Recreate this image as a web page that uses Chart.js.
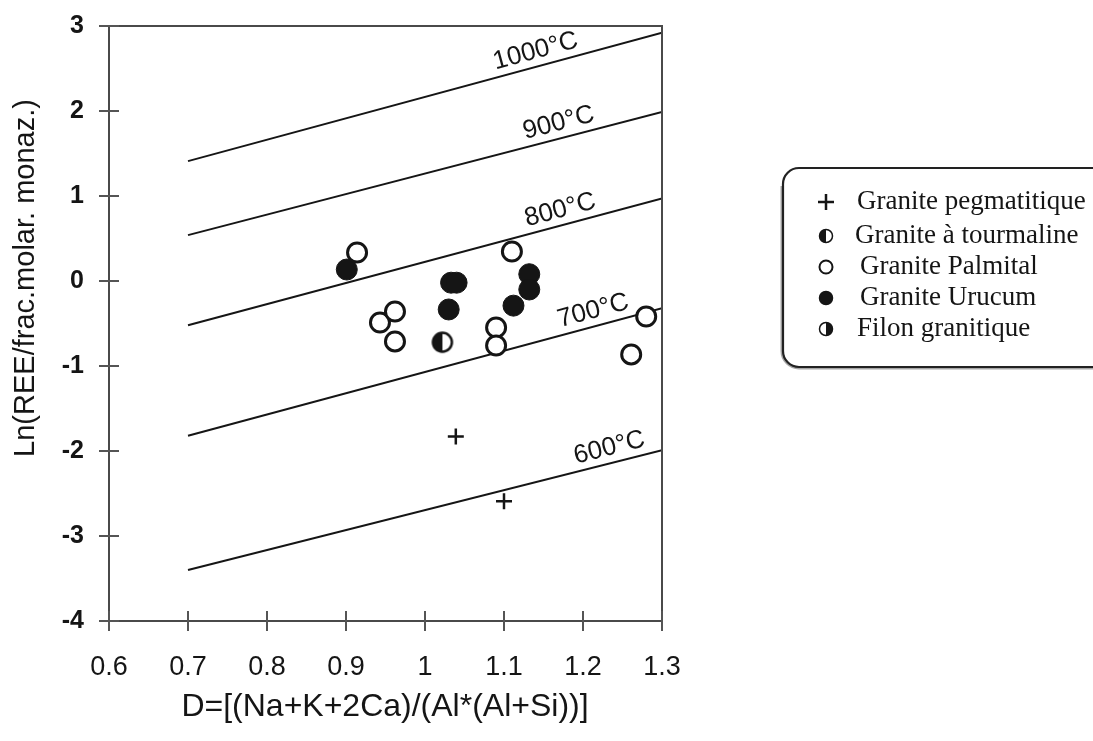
<!DOCTYPE html>
<html><head><meta charset="utf-8">
<script src="https://cdn.jsdelivr.net/npm/chart.js@4/dist/chart.umd.min.js"></script>
<style>html,body{margin:0;padding:0;background:#fff;}#wrap{width:1093px;height:741px;position:relative;}</style>
</head><body><div id="wrap"><canvas id="c" width="1093" height="741"></canvas></div>
<script>
// ---------- data ----------
const xTickLabels = ['0.6','0.7','0.8','0.9','1','1.1','1.2','1.3'];
const yTickLabels = ['-4','-3','-2','-1','0','1','2','3'];
const xTitle = 'D=[(Na+K+2Ca)/(Al*(Al+Si))]';
const yTitle = 'Ln(REE/frac.molar. monaz.)';

const isothermNames = ['1000°C','900°C','800°C','700°C','600°C'];
const isothermX = [0.7, 1.3];
const isotherm1000 = [1.41, 2.92];
const isotherm900 = [0.54, 1.99];
const isotherm800 = [-0.52, 0.97];
const isotherm700 = [-1.82, -0.32];
const isotherm600 = [-3.40, -1.99];
const isothermLabelX = [1.145, 1.174, 1.176, 1.218, 1.238];

const seriesNames = ['Granite pegmatitique','Granite à tourmaline','Granite Palmital','Granite Urucum','Filon granitique'];
const pegmatiteX = [1.039, 1.100];
const pegmatiteY = [-1.83, -2.59];
const tourmalineX = [1.022];
const tourmalineY = [-0.72];
const palmitalX = [0.914, 0.943, 0.962, 0.962, 1.110, 1.090, 1.090, 1.280, 1.261];
const palmitalY = [0.335, -0.488, -0.359, -0.711, 0.347, -0.547, -0.759, -0.418, -0.864];
const urucumX = [0.901, 1.033, 1.040, 1.030, 1.112, 1.132, 1.132];
const urucumY = [0.135, -0.02, -0.02, -0.335, -0.29, 0.08, -0.10];
const filonX = [];
const filonY = [];

// ---------- helpers ----------
const pts = (xs, ys) => xs.map((x, i) => ({x: x, y: ys[i]}));
const INK = '#151515';
function drawMarker(g, kind, x, y, r, lw) {
  g.save(); g.lineWidth = lw; g.strokeStyle = INK;
  if (kind === 'plus') {
    g.beginPath(); g.moveTo(x - r, y); g.lineTo(x + r, y); g.moveTo(x, y - r); g.lineTo(x, y + r); g.stroke();
  } else {
    g.beginPath(); g.arc(x, y, r, 0, Math.PI * 2);
    g.fillStyle = kind === 'filled' ? INK : '#fff'; g.fill(); g.stroke();
    if (kind === 'halfLeft' || kind === 'halfRight') {
      g.beginPath();
      if (kind === 'halfLeft') g.arc(x, y, r, Math.PI / 2, Math.PI * 1.5);
      else g.arc(x, y, r, -Math.PI / 2, Math.PI / 2);
      g.closePath(); g.fillStyle = INK; g.fill();
    }
  }
  g.restore();
}
function markerCanvas(kind, r, lw) {
  const s = Math.ceil(2 * r + lw + 4);
  const cv = document.createElement('canvas'); cv.width = s; cv.height = s;
  drawMarker(cv.getContext('2d'), kind, s / 2, s / 2, r, lw);
  return cv;
}
const seriesKinds = ['plus', 'halfLeft', 'open', 'filled', 'halfRight'];

// ---------- plugins ----------
const framePlugin = {
  id: 'frame',
  afterDatasetsDraw(chart) {
    const {ctx, chartArea: a, scales: {x, y}} = chart;
    ctx.save();
    ctx.strokeStyle = '#4a4a4a'; ctx.lineWidth = 2;
    ctx.strokeRect(a.left, a.top, a.right - a.left, a.bottom - a.top);
    ctx.lineWidth = 2; ctx.strokeStyle = '#555';
    ctx.beginPath();
    y.ticks.forEach(t => { const p = y.getPixelForValue(t.value); ctx.moveTo(a.left - 10, p); ctx.lineTo(a.left + 10, p); });
    x.ticks.forEach(t => { const p = x.getPixelForValue(t.value); ctx.moveTo(p, a.bottom - 10); ctx.lineTo(p, a.bottom + 10); });
    ctx.stroke();
    // isotherm labels
    ctx.fillStyle = INK; ctx.font = '26px "Liberation Sans", Arial, sans-serif';
    ctx.textAlign = 'center'; ctx.textBaseline = 'alphabetic';
    const isos = [isotherm1000, isotherm900, isotherm800, isotherm700, isotherm600];
    isos.forEach((ys, i) => {
      const x0 = x.getPixelForValue(isothermX[0]), x1 = x.getPixelForValue(isothermX[1]);
      const y0 = y.getPixelForValue(ys[0]), y1 = y.getPixelForValue(ys[1]);
      const ang = Math.atan2(y1 - y0, x1 - x0);
      const lx = x.getPixelForValue(isothermLabelX[i]);
      const ly = y0 + (lx - x0) * (y1 - y0) / (x1 - x0);
      ctx.save(); ctx.translate(lx, ly); ctx.rotate(ang);
      ctx.fillText(isothermNames[i], 0, -8);
      ctx.restore();
    });
    // axis titles
    ctx.font = '32px "Liberation Sans", Arial, sans-serif';
    ctx.textBaseline = 'middle';
    ctx.fillText(xTitle, 385, 707);
    ctx.font = '29px "Liberation Sans", Arial, sans-serif';
    ctx.save(); ctx.translate(26, 278); ctx.rotate(-Math.PI / 2);
    ctx.fillText(yTitle, 0, 0); ctx.restore();
    ctx.restore();
  }
};
const legendPlugin = {
  id: 'boxLegend',
  afterDraw(chart) {
    const ctx = chart.ctx;
    ctx.save();
    const L = 783, T = 168, R = 1120, B = 367, rad = 16;
    // soft shadow along left and bottom
    ctx.beginPath();
    ctx.moveTo(L - 1, T + rad + 2); ctx.lineTo(L - 1, B - rad); ctx.arcTo(L - 1, B + 1, L + rad, B + 1, rad + 1); ctx.lineTo(R, B + 1);
    ctx.strokeStyle = 'rgba(0,0,0,0.35)'; ctx.lineWidth = 3; ctx.stroke();
    ctx.beginPath();
    ctx.moveTo(L + rad, T); ctx.lineTo(R, T); ctx.lineTo(R, B); ctx.lineTo(L + rad, B);
    ctx.arcTo(L, B, L, B - rad, rad); ctx.lineTo(L, T + rad); ctx.arcTo(L, T, L + rad, T, rad);
    ctx.strokeStyle = '#222'; ctx.lineWidth = 2.2; ctx.stroke();
    ctx.font = '27px "Liberation Serif", "Times New Roman", serif';
    ctx.fillStyle = INK; ctx.textAlign = 'left'; ctx.textBaseline = 'middle';
    const rowY = [202, 236, 267, 298, 329];
    const textX = [857, 855, 860, 860, 857];
    seriesNames.forEach((n, i) => {
      const k = seriesKinds[i];
      if (k === 'plus') drawMarker(ctx, k, 826, rowY[i], 8, 2.5);
      else if (k === 'open') drawMarker(ctx, k, 826, rowY[i], 6.5, 2);
      else drawMarker(ctx, k, 826, rowY[i], 6.5, 1.5);
      ctx.fillText(n, textX[i], rowY[i]);
    });
    ctx.restore();
  }
};

// ---------- chart ----------
const iso = [isotherm1000, isotherm900, isotherm800, isotherm700, isotherm600];
const datasets = iso.map((ys, i) => ({
  label: isothermNames[i], data: pts(isothermX, ys), showLine: true,
  borderColor: INK, borderWidth: 2, pointRadius: 0, order: 10
}));
datasets.push(
  {label: seriesNames[0], data: pts(pegmatiteX, pegmatiteY), pointStyle: 'cross', pointRadius: 8, borderWidth: 2.5, borderColor: INK, order: 1},
  {label: seriesNames[1], data: pts(tourmalineX, tourmalineY), pointStyle: markerCanvas('halfLeft', 9.5, 2.5), pointRadius: 10, order: 1},
  {label: seriesNames[2], data: pts(palmitalX, palmitalY), pointStyle: 'circle', pointRadius: 9.5, borderWidth: 3, borderColor: INK, backgroundColor: '#fff', order: 1},
  {label: seriesNames[3], data: pts(urucumX, urucumY), pointStyle: 'circle', pointRadius: 10.5, borderWidth: 1, borderColor: INK, backgroundColor: INK, order: 1},
  {label: seriesNames[4], data: pts(filonX, filonY), pointStyle: markerCanvas('halfRight', 9.5, 2.5), pointRadius: 10, order: 1}
);

const findLabel = (arr, v) => { const l = arr.find(s => Math.abs(parseFloat(s) - v) < 1e-6); return l === undefined ? '' : l; };

new Chart(document.getElementById('c'), {
  type: 'scatter',
  data: {datasets},
  options: {
    responsive: false, animation: false, devicePixelRatio: 1, events: [],
    layout: {padding: {left: 0, right: 431, top: 26, bottom: 0}},
    plugins: {legend: {display: false}, tooltip: {enabled: false}},
    scales: {
      x: {
        type: 'linear', min: 0.6, max: 1.3,
        afterFit: s => { s.height = 120; s.paddingLeft = 0; s.paddingRight = 0; },
        grid: {display: false, drawTicks: false}, border: {display: false},
        ticks: {stepSize: 0.1, padding: 30, color: INK, font: {family: '"Liberation Sans", Arial, sans-serif', size: 27},
          callback: v => findLabel(xTickLabels, v), maxRotation: 0, autoSkip: false}
      },
      y: {
        type: 'linear', min: -4, max: 3,
        afterFit: s => { s.width = 109; s.paddingTop = 0; s.paddingBottom = 0; },
        grid: {display: false, drawTicks: false}, border: {display: false},
        ticks: {stepSize: 1, padding: 25, color: INK, font: {family: '"Liberation Sans", Arial, sans-serif', size: 25, weight: 'bold'},
          callback: v => findLabel(yTickLabels, v)}
      }
    }
  },
  plugins: [framePlugin, legendPlugin]
});
</script></body></html>
